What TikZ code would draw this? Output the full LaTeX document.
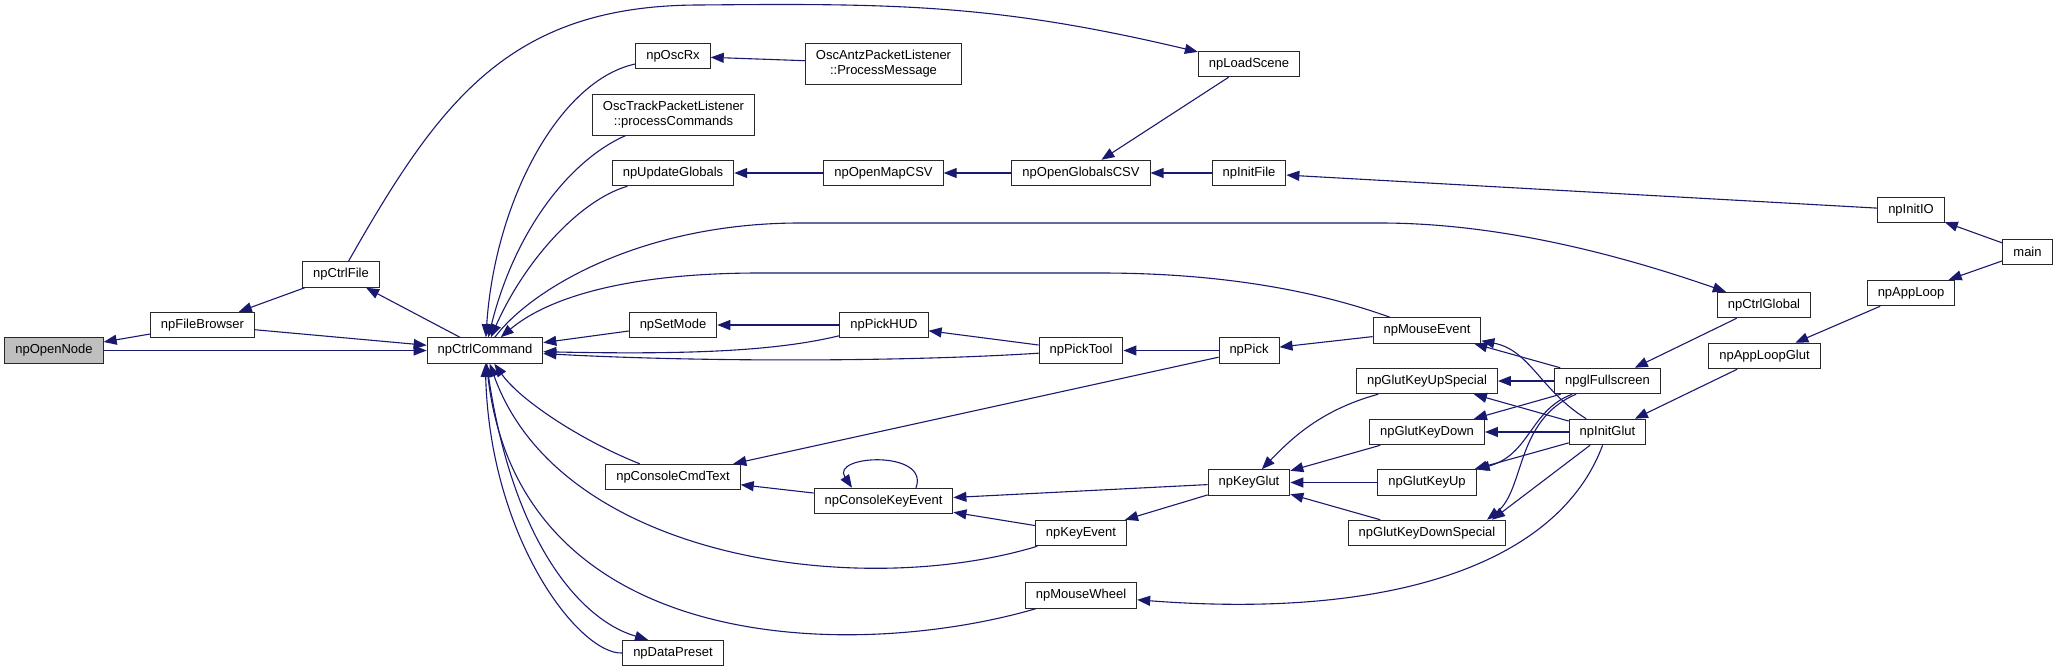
\documentclass[tikz,border=0pt]{standalone}
\usepackage{fontspec}
\setmainfont{Liberation Sans}
\usetikzlibrary{arrows.meta}
\definecolor{edgeblue}{RGB}{25,25,112}
\definecolor{rootgray}{RGB}{191,191,191}
\definecolor{boxline}{RGB}{40,40,40}
\tikzset{
  fnbox/.style={rectangle, draw=boxline, line width=1pt, fill=white,
    minimum height=25.5pt, inner xsep=10.5pt, inner ysep=0pt, align=center,
    font=\fontsize{13}{15.5}\selectfont},
  rootbox/.style={fnbox, fill=rootgray},
  twoline/.style={fnbox, minimum height=41pt},
  call/.style={-{Triangle[length=13pt,width=10pt]}, line width=1.1pt, color=edgeblue},
}

\begin{document}
\begin{tikzpicture}[x=1pt, y=-1pt]
  \fill[white] (0,0) rectangle (2059,672);
  \useasboundingbox (0,0) rectangle (2059,672);

  % functions, column by column
  \node[rootbox] (opennode) at (54,350.5) {npOpenNode};
  \node[fnbox] (filebrowser) at (202.5,325) {npFileBrowser};
  \node[fnbox] (ctrlfile) at (341,274.5) {npCtrlFile};
  \node[fnbox] (ctrlcmd) at (485,350.5) {npCtrlCommand};
  \node[fnbox] (oscrx) at (673,56) {npOscRx};
  \node[twoline] (osctrack) at (673.5,114.5) {OscTrackPacketListener\\::processCommands};
  \node[fnbox] (updglobals) at (673,173) {npUpdateGlobals};
  \node[fnbox] (setmode) at (673,325) {npSetMode};
  \node[fnbox] (consolecmd) at (673,477) {npConsoleCmdText};
  \node[fnbox] (datapreset) at (673,653) {npDataPreset};
  \node[twoline] (oscantz) at (883.5,63.5) {OscAntzPacketListener\\::ProcessMessage};
  \node[fnbox] (openmapcsv) at (883.5,173) {npOpenMapCSV};
  \node[fnbox] (pickhud) at (884,325) {npPickHUD};
  \node[fnbox] (consolekey) at (883.5,501) {npConsoleKeyEvent};
  \node[fnbox] (openglobcsv) at (1081,173) {npOpenGlobalsCSV};
  \node[fnbox] (picktool) at (1081,350.5) {npPickTool};
  \node[fnbox] (keyevent) at (1081,533) {npKeyEvent};
  \node[fnbox] (mousewheel) at (1081,595.5) {npMouseWheel};
  \node[fnbox] (loadscene) at (1249,64) {npLoadScene};
  \node[fnbox] (initfile) at (1249,173) {npInitFile};
  \node[fnbox] (pick) at (1249,350.5) {npPick};
  \node[fnbox] (keyglut) at (1249,482.5) {npKeyGlut};
  \node[fnbox] (mouseevent) at (1427,330.5) {npMouseEvent};
  \node[fnbox] (keyupspecial) at (1427,381) {npGlutKeyUpSpecial};
  \node[fnbox] (keydown) at (1427,432) {npGlutKeyDown};
  \node[fnbox] (keyup) at (1427,482.5) {npGlutKeyUp};
  \node[fnbox] (keydownspecial) at (1427,533) {npGlutKeyDownSpecial};
  \node[fnbox] (glfullscreen) at (1607.5,381) {npglFullscreen};
  \node[fnbox] (initglut) at (1607.5,432) {npInitGlut};
  \node[fnbox] (ctrlglobal) at (1764,305) {npCtrlGlobal};
  \node[fnbox] (apploopglut) at (1764.5,356) {npAppLoopGlut};
  \node[fnbox] (initio) at (1911,210) {npInitIO};
  \node[fnbox] (apploop) at (1911,293) {npAppLoop};
  \node[fnbox] (mainfn) at (2027.5,252) {main};

  % calls
  \draw[call] (filebrowser) -- (opennode);
  \draw[call] (opennode) -- (ctrlcmd);
  \draw[call] (filebrowser) -- (ctrlcmd);
  \draw[call] (ctrlfile) -- (filebrowser);
  \draw[call] (ctrlcmd) -- (ctrlfile);
  \draw[call] (ctrlfile) .. controls (440,100) and (510,5) .. (700,5)
    .. controls (900,3) and (1000,5) .. (loadscene);
  \draw[call] (oscrx) .. controls (560,80) and (495,200) .. (ctrlcmd);
  \draw[call] (osctrack) .. controls (570,160) and (515,230) .. (ctrlcmd);
  \draw[call] (updglobals) .. controls (580,200) and (525,260) .. (ctrlcmd);
  \draw[call] (ctrlcmd) .. controls (530,290) and (640,223) .. (800,223) -- (1380,223)
    .. controls (1500,223) and (1620,255) .. (ctrlglobal);
  \draw[call] (mouseevent) .. controls (1300,285) and (1200,273) .. (1100,273) -- (760,273)
    .. controls (620,273) and (545,300) .. (ctrlcmd);
  \draw[call] (setmode) -- (ctrlcmd);
  \draw[call] (pickhud) .. controls (780,350) and (700,355) .. (ctrlcmd);
  \draw[call] (picktool) .. controls (900,362) and (700,362) .. (ctrlcmd);
  \draw[call] (consolecmd) .. controls (580,440) and (520,400) .. (ctrlcmd);
  \draw[call] (keyevent) .. controls (860,600) and (560,560) .. (ctrlcmd);
  \draw[call] (mousewheel) .. controls (860,660) and (520,660) .. (ctrlcmd);
  \draw[call] (ctrlcmd) .. controls (510,540) and (580,620) .. ([xshift=-25pt]datapreset.north);
  \draw[call] (datapreset.west) .. controls (580,655) and (490,540) .. (ctrlcmd);
  \draw[call] (oscantz) -- (oscrx);
  \draw[call] (openmapcsv) -- (updglobals);
  \draw[call] (openglobcsv) -- (openmapcsv);
  \draw[call] (initfile) -- (openglobcsv);
  \draw[call] (loadscene) -- (openglobcsv);
  \draw[call] (initio) -- (initfile);
  \draw[call] (mainfn) -- (initio);
  \draw[call] (mainfn) -- (apploop);
  \draw[call] (apploop) -- (apploopglut);
  \draw[call] (apploopglut) -- (initglut);
  \draw[call] (ctrlglobal) -- (glfullscreen);
  \draw[call] (pickhud) -- (setmode);
  \draw[call] (picktool) -- (pickhud);
  \draw[call] (pick) -- (picktool);
  \draw[call] (mouseevent) -- (pick);
  \draw[call] (pick) -- (consolecmd);
  \draw[call] (consolekey) -- (consolecmd);
  \draw[call] ([xshift=32.5pt]consolekey.north) .. controls +(14,-38) and +(-22,-33)
    .. ([xshift=-31.5pt]consolekey.north);
  \draw[call] (keyglut) -- (consolekey);
  \draw[call] (keyevent) -- (consolekey);
  \draw[call] (keyglut) -- (keyevent);
  \draw[call] (keyupspecial) .. controls (1320,410) and (1290,440) .. (keyglut);
  \draw[call] (keydown) -- (keyglut);
  \draw[call] (keyup) -- (keyglut);
  \draw[call] (keydownspecial) -- (keyglut);
  \draw[call] (glfullscreen) -- (mouseevent);
  \draw[call] (initglut) .. controls (1540,390) and (1530,350) .. (mouseevent);
  \draw[call] (glfullscreen) -- (keyupspecial);
  \draw[call] (initglut) -- (keyupspecial);
  \draw[call] (glfullscreen) -- (keydown);
  \draw[call] (initglut) -- (keydown);
  \draw[call] (glfullscreen) .. controls (1530,410) and (1530,455) .. (keyup);
  \draw[call] (initglut) -- (keyup);
  \draw[call] (glfullscreen) .. controls (1515,420) and (1525,490)
    .. ([xshift=60pt]keydownspecial.north);
  \draw[call] (initglut) -- ([xshift=65pt]keydownspecial.north);
  \draw[call] (initglut) .. controls (1560,560) and (1400,620) .. (mousewheel);
\end{tikzpicture}
\end{document}
